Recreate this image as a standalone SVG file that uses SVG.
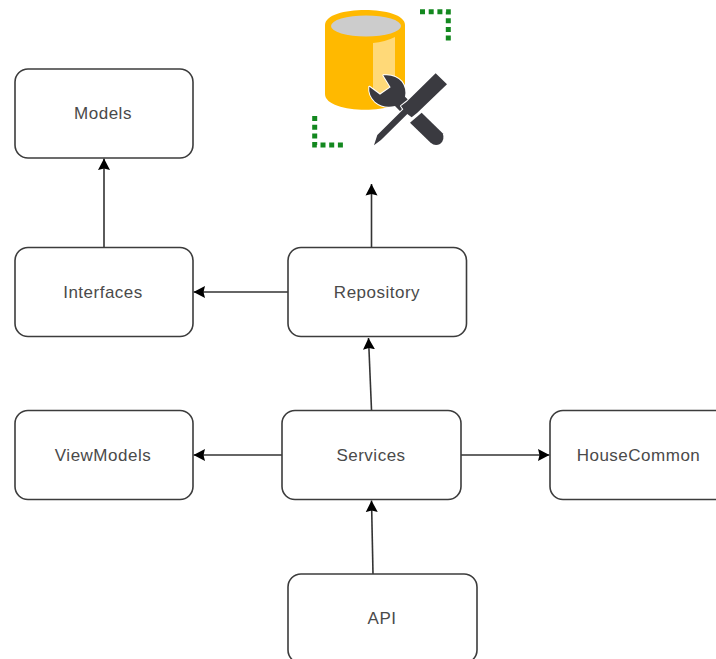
<svg xmlns="http://www.w3.org/2000/svg" width="716" height="659" viewBox="0 0 716 659">
<style>
.n{fill:#fff;stroke:#3c3c3c;stroke-width:1.600}
.t{font-family:"Liberation Sans",Arial,sans-serif;font-size:17px;letter-spacing:.5px;fill:#4a4a4a;text-anchor:middle;dominant-baseline:central}
.c{fill:none;stroke:#333;stroke-width:1.600}
.g{fill:none;stroke:#13881f;stroke-width:5;stroke-dasharray:5 3.7}
.k{fill:#3a3a40;stroke:#fff;stroke-width:6;paint-order:stroke;stroke-linejoin:round}
</style>
<defs><marker id="a" viewBox="0 0 12 13" refX="11.500" refY="6.500" markerWidth="12" markerHeight="13" markerUnits="userSpaceOnUse" orient="auto"><path d="M0 0.500L11.500 6.500L0 12.500L1.500 6.500Z" fill="#000"/></marker></defs>
<rect width="716" height="659" fill="#fff"/>
<g id="connectors">
<path class="c" marker-end="url(#a)" d="M104 247V158.500"/>
<path class="c" marker-end="url(#a)" d="M288 292H193.500"/>
<path class="c" marker-end="url(#a)" d="M371.500 247V184"/>
<path class="c" marker-end="url(#a)" d="M371.500 410L368.500 338"/>
<path class="c" marker-end="url(#a)" d="M282 455H193.500"/>
<path class="c" marker-end="url(#a)" d="M461 455H549.500"/>
<path class="c" marker-end="url(#a)" d="M373 574L371.500 500.500"/>
</g>
<g id="models"><rect class="n" x="15" y="69" width="178" height="89" rx="13"/><text class="t" x="103" y="113">Models</text></g>
<g id="interfaces"><rect class="n" x="15" y="247.500" width="178" height="89" rx="13"/><text class="t" x="103" y="292">Interfaces</text></g>
<g id="repository"><rect class="n" x="288" y="247.500" width="178.500" height="89" rx="13"/><text class="t" x="377" y="292">Repository</text></g>
<g id="viewmodels"><rect class="n" x="15" y="410.500" width="178" height="89" rx="13"/><text class="t" x="103" y="455">ViewModels</text></g>
<g id="services"><rect class="n" x="282" y="410.500" width="179" height="89" rx="13"/><text class="t" x="371" y="455">Services</text></g>
<g id="housecommon"><rect class="n" x="550" y="410.500" width="190" height="89" rx="13"/><text class="t" x="638.500" y="455">HouseCommon</text></g>
<g id="api"><rect class="n" x="288" y="574" width="189" height="89" rx="13"/><text class="t" x="382" y="618">API</text></g>
<g id="database-tools">
<path d="M325 25C325 5 405 5 405 25V94C405 115 325 115 325 94Z" fill="#ffb900"/>
<ellipse cx="366" cy="26" rx="35" ry="10.500" fill="#ccc"/>
<path d="M373 43Q385 42 395 37V90L373 97Z" fill="#ffd978"/>
<path class="g" d="M420 11.700H448.300V41"/>
<path class="g" d="M314.700 116V145H344"/>
<g transform="translate(300 0) scale(.3333)">
<path class="k" d="M365 338L428 400Q436 420 420 432Q405 440 392 428L330 368Z"/>
<path class="k" d="M250 226Q285 222 305 245Q320 265 315 290L335 310L305 338L285 318Q250 326 225 305Q205 285 208 260L240 284L272 262Z"/>
<path class="k" d="M407 220L441 253L352 338L335 352L322 342L243 420L222 436L232 405L310 328L303 318L320 305Z"/>
</g>
</g>
</svg>
